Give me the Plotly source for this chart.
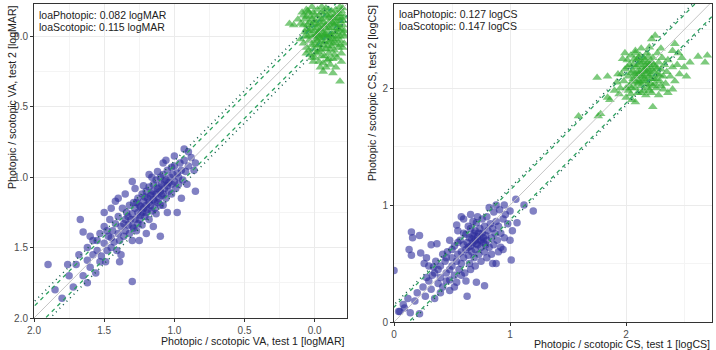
import plotly.graph_objects as go

# ---------------- data ----------------
loa_va_photopic = 0.082
loa_va_scotopic = 0.115
loa_cs_photopic = 0.127
loa_cs_scotopic = 0.147

va_photopic = [
    (1.90,1.62),(1.80,1.86),(1.76,1.62),(1.72,1.78),(1.68,1.55),(1.67,1.30),(1.65,1.39),(1.65,1.70),
    (1.62,1.59),(1.62,1.50),(1.60,1.64),(1.58,1.45),(1.56,1.68),(1.55,1.52),(1.53,1.60),(1.53,1.40),
    (1.52,1.56),(1.50,1.47),(1.50,1.35),(1.49,1.60),(1.48,1.52),(1.47,1.42),(1.46,1.30),(1.45,1.50),
    (1.44,1.38),(1.43,1.46),(1.42,1.33),(1.42,1.17),(1.41,1.52),(1.40,1.40),(1.40,1.28),(1.39,1.60),
    (1.39,1.45),(1.38,1.35),(1.37,1.22),(1.36,1.42),(1.35,1.30),(1.35,1.38),(1.34,1.25),(1.33,1.34),
    (1.32,1.40),(1.32,1.20),(1.31,1.30),(1.30,1.03),(1.30,1.26),(1.30,1.35),(1.30,1.74),(1.29,1.18),
    (1.28,1.30),(1.28,1.22),(1.27,1.38),(1.26,1.25),(1.26,1.15),(1.25,1.30),(1.25,1.20),(1.24,1.27),
    (1.23,1.12),(1.23,1.34),(1.22,1.22),(1.22,1.17),(1.21,1.28),(1.20,1.20),(1.20,1.10),(1.20,1.25),
    (1.19,1.15),(1.18,1.30),(1.18,1.07),(1.17,1.20),(1.17,1.13),(1.16,1.24),(1.15,1.16),(1.15,1.05),
    (1.15,1.10),(1.14,1.22),(1.13,1.12),(1.13,1.02),(1.12,1.18),(1.12,1.08),(1.11,1.15),(1.10,1.10),
    (1.10,1.00),(1.10,1.20),(1.10,1.42),(1.09,1.05),(1.08,1.12),(1.08,0.98),(1.07,1.08),(1.06,1.15),
    (1.06,1.02),(1.05,1.06),(1.05,0.95),(1.04,1.10),(1.03,1.00),(1.02,1.05),(1.02,0.93),(1.01,0.98),
    (1.00,1.03),(1.00,0.92),(0.99,1.08),(0.98,0.97),(0.98,1.25),(0.97,1.00),(0.96,0.90),(0.95,0.95),
    (0.94,1.02),(0.93,0.88),(0.93,0.80),(0.92,0.96),(0.91,1.05),(0.90,0.92),(0.88,0.86),(0.86,0.95),
    (0.85,0.90),(0.85,1.10),(1.27,1.18),(1.24,1.21),(1.21,1.14),(1.19,1.23),(1.16,1.12),(1.14,1.17),
    (1.11,1.07),(1.09,1.13),(1.07,1.03),(1.04,1.04),(1.18,1.18),(1.23,1.25),(1.33,1.28),(1.36,1.33),
    (1.29,1.36),(1.26,1.33),(1.13,1.26),(1.08,1.20),(1.02,1.12),(0.97,1.05),(1.45,1.43),(1.48,1.38),
    (1.55,1.45),(1.58,1.55),(1.12,0.96),(1.16,1.00),(1.22,1.06),(1.06,0.88),(1.00,0.85),
    (1.35,1.12),(1.40,1.15),(1.45,1.22),(1.30,1.45),(1.20,1.40),(1.25,1.45),(1.15,1.35),(1.05,1.25),
    (0.95,1.15),(1.38,1.55),(1.50,1.25),(1.28,1.08),(1.18,0.98),(1.08,0.90),(0.90,0.82),(1.60,1.42),
    (1.70,1.62),(1.62,1.75),(1.75,1.70),(1.85,1.80),
]

va_scotopic = [
    (0.18,-0.09),(0.15,-0.08),(0.12,-0.12),(0.10,-0.09),(0.08,-0.15),(0.09,-0.17),(0.06,-0.19),
    (0.00,0.15),(-0.06,0.25),(-0.13,0.26),(-0.18,0.32),
    (0.10,0.02),(0.08,0.05),(0.07,-0.03),(0.06,0.08),(0.05,0.00),(0.05,-0.08),(0.04,0.10),(0.04,0.03),
    (0.03,-0.05),(0.03,0.13),(0.02,0.06),(0.02,-0.12),(0.01,0.00),(0.01,0.09),(0.00,-0.04),(0.00,0.05),
    (0.00,-0.15),(-0.01,0.12),(-0.01,0.02),(-0.02,-0.08),(-0.02,0.07),(-0.03,0.00),(-0.03,0.18),
    (-0.04,-0.05),(-0.04,0.10),(-0.05,0.03),(-0.05,-0.12),(-0.06,0.06),(-0.06,-0.02),(-0.07,0.14),
    (-0.07,-0.07),(-0.08,0.01),(-0.08,0.09),(-0.09,-0.04),(-0.09,-0.15),(-0.10,0.04),(-0.10,-0.10),
    (-0.10,0.12),(-0.11,-0.01),(-0.11,0.20),(-0.12,0.07),(-0.12,-0.06),(-0.13,-0.13),(-0.13,0.02),
    (-0.14,0.10),(-0.14,-0.03),(-0.15,-0.09),(-0.15,0.05),(-0.16,-0.16),(-0.16,0.00),(-0.17,0.08),
    (-0.17,-0.05),(-0.18,-0.11),(-0.18,0.03),(-0.19,-0.18),(-0.19,0.12),(-0.20,-0.02),(-0.20,-0.08),
    (-0.21,0.05),(-0.21,-0.14),(-0.20,-0.20),(-0.18,-0.21),(-0.15,-0.19),(-0.12,-0.18),(-0.08,-0.20),
    (-0.05,-0.17),(-0.02,-0.19),(0.02,-0.21),(0.05,-0.18),(0.07,-0.12),(-0.16,0.15),(-0.19,0.18),
    (-0.13,0.16),(-0.09,0.17),(-0.05,0.14),(-0.02,0.11),(0.01,0.18),(-0.15,0.22),(-0.04,0.22),
    (-0.08,0.22),(-0.20,0.08),(-0.11,0.09),(-0.07,0.04),(-0.03,0.06),(-0.01,-0.01),(-0.06,-0.10),
    (-0.10,-0.06),(-0.14,-0.08),(-0.17,-0.13),(-0.12,-0.02),(-0.08,-0.01),(-0.04,0.01),(0.00,-0.09),
    (0.03,-0.01),(0.06,-0.05),(0.08,-0.08),(-0.19,-0.05),(-0.16,-0.03),(-0.13,0.05),(-0.09,0.07),
    (-0.05,0.09),(-0.02,0.03),(0.04,-0.10),(-0.11,-0.15),(-0.07,-0.14),(-0.03,-0.12),(-0.21,0.00),
    (-0.18,0.06),(-0.14,0.13),(-0.10,0.16),(-0.06,0.19),(0.02,0.15),(0.06,0.12),(0.04,-0.17),(0.06,-0.14),
    (-0.01,-0.06),(-0.03,-0.03),(-0.05,-0.05),(-0.07,-0.01),(-0.09,0.00),(-0.11,0.03),(-0.13,-0.09),
    (-0.15,-0.12),(-0.17,-0.08),(-0.19,-0.13),(-0.12,-0.10),(-0.08,-0.08),(-0.04,-0.09),(0.00,-0.11),
    (0.02,-0.08),(0.01,-0.17),(-0.03,-0.15),(-0.07,-0.17),(-0.10,-0.19),(-0.14,-0.15),(-0.18,-0.16),
    (-0.20,-0.11),(-0.16,-0.06),(-0.12,0.00),(-0.06,0.00),(-0.02,-0.02),(0.04,-0.04),(0.07,0.00),
    (-0.15,0.02),(-0.18,0.00),(-0.21,-0.04),(-0.10,-0.13),(-0.05,-0.21),(0.03,-0.14),
]

cs_photopic = [
    (0.00,0.44),(0.04,0.09),(0.05,0.09),(0.09,0.12),(0.14,0.08),(0.18,0.18),(0.22,0.07),(0.27,0.22),
    (0.35,0.20),(0.15,0.57),(0.22,0.74),(0.16,0.72),(1.01,0.53),(0.78,0.31),(0.63,0.22),(0.54,0.83),
    (1.06,0.85),(0.92,0.64),(0.88,0.50),(0.71,0.34),(0.54,0.34),(0.48,0.27),(1.05,1.05),(1.12,1.00),
    (1.20,0.95),(0.30,0.35),(0.32,0.28),(0.35,0.42),(0.38,0.33),(0.40,0.48),(0.40,0.38),(0.42,0.30),
    (0.44,0.52),(0.45,0.42),(0.46,0.60),(0.48,0.45),(0.48,0.36),(0.50,0.55),(0.50,0.48),(0.52,0.40),
    (0.52,0.65),(0.54,0.52),(0.55,0.58),(0.56,0.45),(0.57,0.70),(0.58,0.60),(0.58,0.50),(0.60,0.66),
    (0.60,0.55),(0.61,0.42),(0.62,0.75),(0.62,0.62),(0.63,0.68),(0.64,0.57),(0.65,0.72),(0.65,0.50),
    (0.66,0.80),(0.66,0.65),(0.67,0.60),(0.68,0.74),(0.68,0.68),(0.69,0.55),(0.70,0.78),(0.70,0.70),
    (0.70,0.62),(0.71,0.85),(0.72,0.73),(0.72,0.66),(0.73,0.58),(0.74,0.80),(0.74,0.70),(0.75,0.64),
    (0.76,0.76),(0.76,0.88),(0.77,0.68),(0.78,0.82),(0.78,0.60),(0.79,0.74),(0.80,0.70),(0.80,0.90),
    (0.81,0.78),(0.82,0.64),(0.83,0.84),(0.84,0.72),(0.85,0.80),(0.86,0.94),(0.86,0.66),(0.87,0.76),
    (0.88,0.86),(0.89,0.70),(0.90,0.82),(0.91,0.96),(0.92,0.76),(0.94,0.88),(0.95,0.72),(0.96,0.92),
    (0.98,0.84),(1.00,0.95),(1.02,0.78),(0.60,0.76),(0.55,0.68),(0.50,0.62),(0.45,0.55),(0.42,0.58),
    (0.38,0.45),(0.36,0.52),(0.33,0.40),(0.28,0.38),(0.25,0.30),(0.20,0.25),(0.12,0.20),(0.08,0.15),
    (0.30,0.48),(0.28,0.55),(0.58,0.40),(0.62,0.35),(0.66,0.45),(0.75,0.52),(0.72,0.90),(0.68,0.86),
    (0.64,0.82),(0.82,0.98),(0.88,1.00),(0.84,0.58),(0.94,0.62),(0.64,0.64),(0.67,0.71),(0.71,0.67),
    (0.73,0.76),(0.77,0.72),(0.69,0.76),(0.75,0.70),(0.79,0.66),(0.15,0.77),(0.32,0.66),(0.37,0.67),
    (0.23,0.59),(0.26,0.50),(0.34,0.47),(0.13,0.62),
    (0.55,0.78),(0.48,0.70),(0.60,0.88),(0.80,0.55),(0.90,0.60),(0.70,0.48),(0.52,0.30),(0.45,0.35),
    (0.40,0.25),(0.58,0.90),(0.95,1.00),(1.00,0.70),(0.85,0.50),(0.66,0.92),
]

cs_scotopic = [
    (2.62,2.27),(2.70,2.28),(2.68,2.22),(1.75,2.09),(1.84,2.10),(1.93,2.12),(2.40,1.99),(2.32,1.99),
    (2.23,1.84),(2.08,1.88),(1.86,1.90),(1.76,1.76),(1.78,1.78),(1.59,1.76),(2.22,2.42),(2.25,2.45),
    (2.08,2.32),(1.97,2.25),(1.84,1.92),
    (2.00,2.00),(2.02,2.10),(2.03,2.20),(2.04,1.95),(2.05,2.05),(2.06,2.15),(2.07,2.25),(2.08,2.00),
    (2.09,2.10),(2.10,1.96),(2.10,2.20),(2.11,2.06),(2.12,2.14),(2.12,2.28),(2.13,2.02),(2.14,2.18),
    (2.15,2.10),(2.15,1.98),(2.16,2.24),(2.17,2.06),(2.18,2.14),(2.18,2.30),(2.19,2.00),(2.20,2.20),
    (2.20,2.10),(2.21,2.04),(2.22,2.16),(2.23,2.26),(2.24,2.08),(2.25,2.18),(2.26,2.00),(2.27,2.12),
    (2.28,2.22),(2.29,2.06),(2.30,2.16),(2.31,2.26),(2.32,2.10),(2.33,2.20),(2.34,2.04),(2.35,2.14),
    (1.98,2.06),(1.99,2.16),(2.01,2.24),(2.00,1.92),(2.05,1.90),(2.08,2.30),(2.13,2.34),(2.17,1.94),
    (2.22,1.96),(2.27,2.30),(2.30,2.02),(2.36,2.24),(2.38,2.10),(1.95,2.00),(1.96,2.12),(1.94,1.95),
    (2.03,2.02),(2.06,2.08),(2.09,2.18),(2.11,2.12),(2.14,2.06),(2.16,2.16),(2.19,2.22),(2.21,2.12),
    (2.24,2.14),(2.26,2.08),(2.12,2.22),(2.07,2.12),(2.18,2.03),(2.23,2.02),(2.15,2.26),(2.10,2.04),
    (2.02,1.98),(1.92,2.05),(1.90,1.98),(2.40,2.18),(2.42,2.06),(2.36,1.96),(2.28,1.94),(2.04,2.28),
    (1.99,2.30),(2.20,2.35),(2.30,2.34),(2.44,2.20),(2.46,2.12),(2.48,2.26),(2.50,2.18),(2.52,2.10),
    (2.45,2.30),(2.40,2.32),(2.55,2.22),(2.42,2.38),
    (2.10,2.14),(2.13,2.10),(2.17,2.12),(2.20,2.15),(2.14,2.22),(2.18,2.18),(2.22,2.22),(2.16,2.08),
    (2.12,2.05),(2.08,2.06),(2.06,2.20),(2.11,2.26),(2.19,2.27),(2.24,2.20),(2.27,2.17),(2.29,2.11),
    (2.25,2.04),(2.20,1.98),(2.13,1.96),(2.04,2.13),(2.01,2.18),(2.09,2.24),(2.17,2.20),(2.21,2.08),
    (2.15,2.15),(2.05,2.00),
]

va_ticks = [0.0, 0.5, 1.0, 1.5, 2.0]
cs_ticks = [0, 1, 2]
va_range = [2.0, -0.23]
cs_range = [0.0, 2.74]
cs_yrange = [0.0, 2.72]

# ---------------- style ----------------
FONT = "Arial, Liberation Sans, sans-serif"
PURPLE = "rgba(45,45,155,0.6)"
GREEN = "rgba(45,170,45,0.62)"
DASH_COL = "#2ca25f"
DOT_COL = "#0e5a48"
IDENT_COL = "#c4c4c4"

fig = go.Figure()


def add_panel(fig, xa, ya, phot, scot, loa_p, loa_s, lo, hi):
    fig.add_trace(go.Scatter(x=[p[0] for p in phot], y=[p[1] for p in phot], mode="markers",
                             xaxis=xa, yaxis=ya, showlegend=False, hoverinfo="skip",
                             marker=dict(color=PURPLE, size=7.5, symbol="circle", line=dict(width=0))))
    fig.add_trace(go.Scatter(x=[p[0] for p in scot], y=[p[1] for p in scot], mode="markers",
                             xaxis=xa, yaxis=ya, showlegend=False, hoverinfo="skip",
                             marker=dict(color=GREEN, size=8.5, symbol="triangle-up", line=dict(width=0))))
    xs = [lo, hi]
    fig.add_trace(go.Scatter(x=xs, y=xs, mode="lines", xaxis=xa, yaxis=ya, showlegend=False,
                             hoverinfo="skip", line=dict(color=IDENT_COL, width=1)))
    for sgn in (1, -1):
        fig.add_trace(go.Scatter(x=xs, y=[v + sgn * loa_p for v in xs], mode="lines", xaxis=xa, yaxis=ya,
                                 showlegend=False, hoverinfo="skip",
                                 line=dict(color=DASH_COL, width=1.3, dash="4px,4px")))
        fig.add_trace(go.Scatter(x=xs, y=[v + sgn * loa_s for v in xs], mode="lines", xaxis=xa, yaxis=ya,
                                 showlegend=False, hoverinfo="skip",
                                 line=dict(color=DOT_COL, width=1.5, dash="1px,4px")))


add_panel(fig, "x", "y", va_photopic, va_scotopic, loa_va_photopic, loa_va_scotopic, -0.4, 2.2)
add_panel(fig, "x2", "y2", cs_photopic, cs_scotopic, loa_cs_photopic, loa_cs_scotopic, -0.2, 3.0)

axis_common = dict(
    showline=True, linecolor="#333333", linewidth=1, mirror=True,
    ticks="outside", ticklen=3, tickcolor="#333333", tickwidth=1,
    tickfont=dict(family=FONT, size=10, color="#4d4d4d"),
    showgrid=True, gridcolor="#ebebeb", gridwidth=1, zeroline=False,
    automargin=False,
)

W, H = 716, 350
L_dom = [34 / W, 347 / W]
R_dom = [394 / W, 712 / W]
L_ydom = [1 - 318 / H, 1 - 4 / H]
R_ydom = [1 - 322 / H, 1 - 4 / H]

fig.update_layout(
    template="none",
    width=W, height=H, margin=dict(l=0, r=0, t=0, b=0, pad=0, autoexpand=False),
    paper_bgcolor="white", plot_bgcolor="white",
    font=dict(family=FONT),
    xaxis=dict(domain=L_dom, range=va_range, tickvals=va_ticks,
               ticktext=[f"{v:.1f}" for v in va_ticks], anchor="y",
               minor=dict(showgrid=True, gridcolor="#f4f4f4", tickvals=[0.25, 0.75, 1.25, 1.75]),
               **axis_common),
    yaxis=dict(domain=L_ydom, range=va_range, tickvals=va_ticks,
               ticktext=[f"{v:.1f}" for v in va_ticks], anchor="x",
               minor=dict(showgrid=True, gridcolor="#f4f4f4", tickvals=[0.25, 0.75, 1.25, 1.75]),
               **axis_common),
    xaxis2=dict(domain=R_dom, range=cs_range, tickvals=cs_ticks,
                ticktext=[str(v) for v in cs_ticks], anchor="y2",
                minor=dict(showgrid=True, gridcolor="#f4f4f4", tickvals=[0.5, 1.5, 2.5]),
                **axis_common),
    yaxis2=dict(domain=R_ydom, range=cs_yrange, tickvals=cs_ticks,
                ticktext=[str(v) for v in cs_ticks], anchor="x2",
                minor=dict(showgrid=True, gridcolor="#f4f4f4", tickvals=[0.5, 1.5, 2.5]),
                **axis_common),
)

title_font = dict(family=FONT, size=10.6, color="#222222")
note_font = dict(family=FONT, size=10.5, color="#222222")
ann = [
    dict(text="Photopic / scotopic VA, test 1 [logMAR]", x=347 / W, y=1 - 341 / H,
         xanchor="right", yanchor="middle", font=title_font),
    dict(text="Photopic / scotopic CS, test 1 [logCS]", x=712 / W, y=1 - 344 / H,
         xanchor="right", yanchor="middle", font=title_font),
    dict(text="Photopic / scotopic VA, test 2 [logMAR]", x=12 / W, y=1 - 3 / H, textangle=-90,
         xanchor="center", yanchor="top", font=title_font),
    dict(text="Photopic / scotopic CS, test 2 [logCS]", x=372 / W, y=1 - 3 / H, textangle=-90,
         xanchor="center", yanchor="top", font=title_font),
    dict(text=f"loaPhotopic: {loa_va_photopic:.3f} logMAR", x=37 / W, y=1 - 15 / H,
         xanchor="left", yanchor="middle", font=note_font),
    dict(text=f"loaScotopic: {loa_va_scotopic:.3f} logMAR", x=37 / W, y=1 - 27 / H,
         xanchor="left", yanchor="middle", font=note_font),
    dict(text=f"loaPhotopic: {loa_cs_photopic:.3f} logCS", x=397 / W, y=1 - 14 / H,
         xanchor="left", yanchor="middle", font=note_font),
    dict(text=f"loaScotopic: {loa_cs_scotopic:.3f} logCS", x=397 / W, y=1 - 26 / H,
         xanchor="left", yanchor="middle", font=note_font),
]
for a in ann:
    a.update(xref="paper", yref="paper", showarrow=False)
fig.update_layout(annotations=ann)

fig.write_html("out.html", config={"displayModeBar": False},
               post_script="document.body.style.margin='0';document.body.style.overflow='hidden';")
